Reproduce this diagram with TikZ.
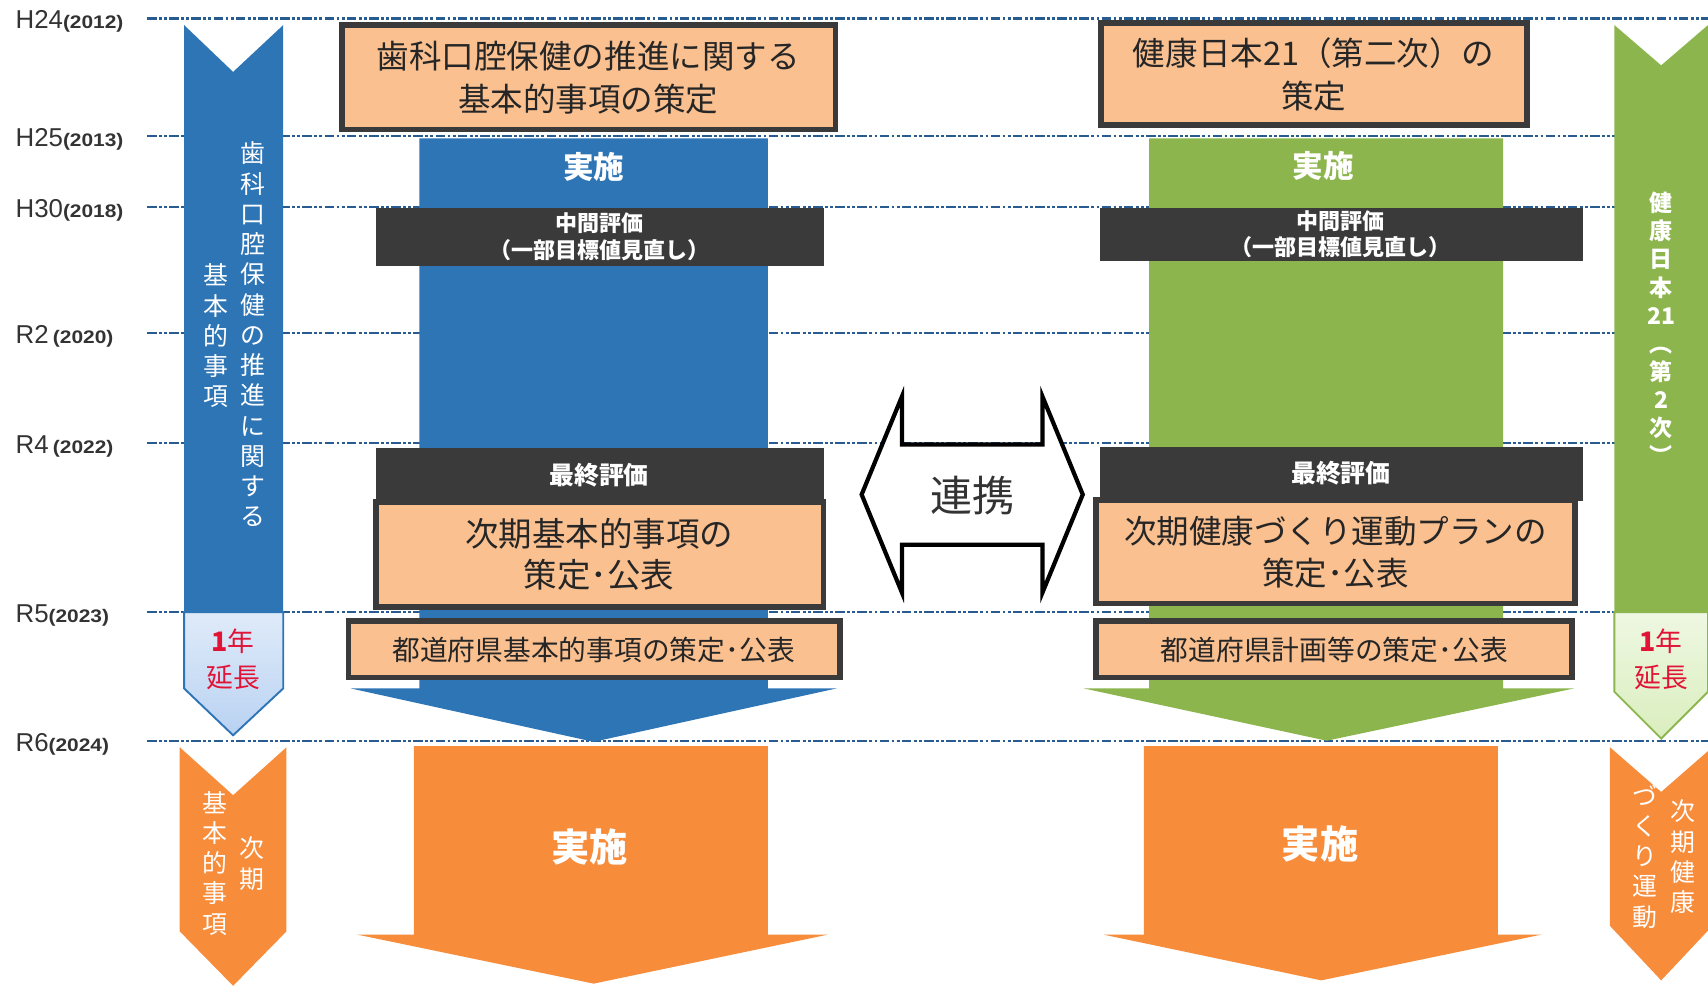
\documentclass[tikz,border=0pt]{standalone}
\usepackage{fontspec}
\setmainfont{Noto Sans CJK JP}
\newfontfamily\labfont{Liberation Sans}
\newfontfamily\yrfont[FakeStretch=1.15]{Liberation Sans}
\definecolor{pblue}{RGB}{46,117,182}
\definecolor{pgreen}{RGB}{140,181,77}
\definecolor{porange}{RGB}{247,140,59}
\definecolor{ppeach}{RGB}{250,192,144}
\definecolor{pdark}{RGB}{58,58,58}
\definecolor{pline}{RGB}{40,92,145}
\definecolor{pred}{RGB}{225,20,55}
\definecolor{lblue}{RGB}{185,210,242}
\definecolor{lgreen}{RGB}{218,238,190}

\begin{document}
\begin{tikzpicture}[x=0.02cm,y=-0.02cm]
  \tikzset{yearline/.style={pline,line width=1.1pt,dash pattern=on 5pt off 1.2pt on 1.5pt off 1.2pt on 1.5pt off 1.2pt},
    yearlab/.style={anchor=west,inner sep=0pt,text=black!80,font=\labfont\fontsize{13.5}{13.5}\selectfont},
    plan box/.style={draw=pdark,line width=3pt,fill=ppeach},
    plan text/.style={align=center,text=black!85,font=\fontsize{17}{22.5}\selectfont},
    eval text/.style={align=center,text=white,font=\bfseries\fontsize{11.5}{14}\selectfont},
    col text/.style={text=white,font=\bfseries\fontsize{#1}{#1}\selectfont},
    vtext/.style={align=center,inner sep=0pt,anchor=north,text=white,font=\fontsize{13}{15.8}\selectfont},
    ext text/.style={align=center,text=pred,font=\fontsize{14}{19}\selectfont}}
  \useasboundingbox (0,0) rectangle (1568,906);

  \foreach \yy/\era/\yr in {17/H24/2012,125/H25/2013,190/H30/2018,306/R2\,/2020,407/R4\,/2022,562/R5/2023,680/R6/2024}{
    \draw[yearline] (135,\yy) -- (1568,\yy);
    \node[yearlab] (y\yr) at (14,\yy+3) {\era{\yrfont\bfseries\fontsize{9.5}{9.5}\selectfont(\yr)}};
  }

  % side arrows
  \fill[pblue] (169,23) -- (214,66) -- (260,23) -- (260,562) -- (169,562) -- cycle;
  \draw[pblue,line width=1pt,top color=lblue!45,bottom color=lblue] (169,562) -- (260,562) -- (260,632) -- (214,675) -- (169,632) -- cycle;
  \fill[pgreen] (1482,23) -- (1525,60) -- (1568,23) -- (1568,562) -- (1482,562) -- cycle;
  \draw[pgreen,line width=1pt,top color=lgreen!45,bottom color=lgreen] (1482,562) -- (1568,562) -- (1568,635) -- (1525,678) -- (1482,635) -- cycle;
  \fill[porange] (165,686) -- (214,730) -- (263,686) -- (263,855) -- (214,905) -- (165,855) -- cycle;
  \fill[porange] (1478,686) -- (1525,727) -- (1572,686) -- (1572,850) -- (1525,900) -- (1478,850) -- cycle;

  % columns
  \fill[pblue] (385,127) -- (705,127) -- (705,632) -- (768,632) -- (545,681) -- (322,632) -- (385,632) -- cycle;
  \fill[pgreen] (1055,127) -- (1380,127) -- (1380,632) -- (1445,632) -- (1218,680) -- (995,632) -- (1055,632) -- cycle;
  \fill[porange] (380,685) -- (705,685) -- (705,858) -- (760,858) -- (545,903) -- (328,858) -- (380,858) -- cycle;
  \fill[porange] (1050,685) -- (1375,685) -- (1375,858) -- (1415,858) -- (1213,900) -- (1013,858) -- (1050,858) -- cycle;

  % boxes
  \draw[plan box] (314,23) rectangle (767,119);
  \draw[plan box] (1011,21) rectangle (1402,115);
  \fill[pdark] (345,191) rectangle (756,244);
  \fill[pdark] (1010,191) rectangle (1453,240);
  \fill[pdark] (345,411) rectangle (756,462);
  \fill[pdark] (1010,410) rectangle (1453,460);
  \draw[plan box] (345,461) rectangle (756,557);
  \draw[plan box] (1006,459) rectangle (1446,554);
  \draw[plan box] (320,570) rectangle (771,622);
  \draw[plan box] (1006,570) rectangle (1443,622);

  % link
  \draw[line width=2.2pt,fill=white] (791,454) -- (828,364) -- (828,408) -- (957,408) -- (957,364) -- (994,454)
    -- (957,544) -- (957,500) -- (828,500) -- (828,544) -- cycle;
  \node[text=black!80,font=\fontsize{22}{22}\selectfont] (link) at (893,455) {連携};

  \node[plan text] (plan1) at (540,71) {歯科口腔保健の推進に関する\\基本的事項の策定};
  \node[plan text] (plan2) at (1206,68) {健康日本21（第二次）の\\策定};
  \node[eval text] (mid1) at (550,217) {中間評価\\（一部目標値見直し）};
  \node[eval text] (mid2) at (1231,215) {中間評価\\（一部目標値見直し）};
  \node[eval text,font=\bfseries\fontsize{13}{13}\selectfont] (fin1) at (550,436) {最終評価};
  \node[eval text,font=\bfseries\fontsize{13}{13}\selectfont] (fin2) at (1231,434) {最終評価};
  \node[plan text,font=\fontsize{17.5}{21.5}\selectfont] (next1) at (550,509) {次期基本的事項の\\策定･公表};
  \node[plan text,font=\fontsize{17}{21.5}\selectfont] (next2) at (1226,507) {次期健康づくり運動プランの\\策定･公表};
  \node[plan text,font=\fontsize{14.5}{14.5}\selectfont] (pref1) at (545,597) {都道府県基本的事項の策定･公表};
  \node[plan text,font=\fontsize{14.5}{14.5}\selectfont] (pref2) at (1225,597) {都道府県計画等の策定･公表};

  \node[col text=16] (impl1) at (545,153) {実施};
  \node[col text=16] (impl2) at (1215,152) {実施};
  \node[col text=20] (impl3) at (541,778) {実施};
  \node[col text=20] (impl4) at (1212,775) {実施};

  % vertical labels
  \node[vtext] (dentR) at (232,130) {歯\\科\\口\\腔\\保\\健\\の\\推\\進\\に\\関\\す\\る};
  \node[vtext] (dentL) at (198,242) {基\\本\\的\\事\\項};
  \node[vtext,font=\bfseries\fontsize{12}{14.7}\selectfont] (hj21) at (1525,176) {健\\康\\日\\本\\21\\︵\\第\\2\\次\\︶};
  \node[vtext] (nextL1) at (231,768) {次\\期};
  \node[vtext] (nextL2) at (197,726) {基\\本\\的\\事\\項};
  \node[vtext] (nextR1) at (1545,734) {次\\期\\健\\康};
  \node[vtext] (nextR2) at (1510,720) {づ\\く\\り\\運\\動};

  \node[ext text] (ext1) at (214,605) {{\bfseries 1}年\\延長};
  \node[ext text] (ext2) at (1525,605) {{\bfseries 1}年\\延長};
\end{tikzpicture}
\end{document}
